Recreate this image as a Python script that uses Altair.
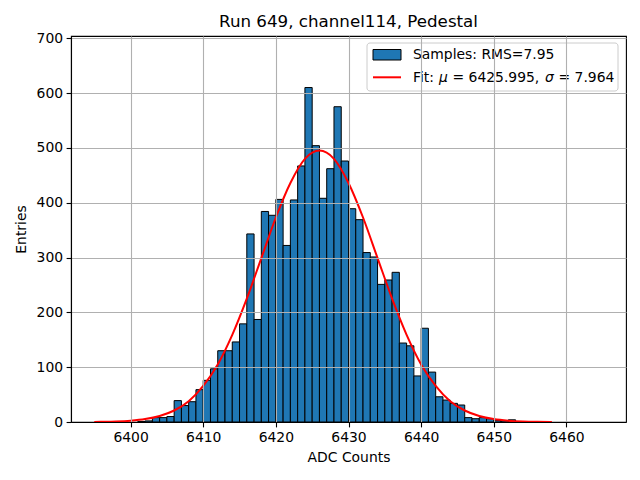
import altair as alt
import pandas as pd

# Histogram bins (left edges, width 1) and counts
bin_left = list(range(6401, 6453))
counts = [1, 2, 8, 8, 10, 39, 30, 37, 59, 76, 97, 130, 130, 146, 179,
          343, 187, 384, 377, 406, 322, 405, 467, 610, 504, 408, 462, 575,
          476, 389, 369, 309, 301, 251, 259, 273, 144, 139, 84, 171, 91,
          46, 40, 34, 31, 8, 6, 8, 6, 3, 2, 4]

# Fit curve points
fit_x = [6395, 6396, 6398, 6400, 6402, 6404, 6406, 6408, 6410, 6412, 6414,
         6416, 6418, 6420, 6422, 6424, 6426, 6428, 6430, 6432, 6434, 6436,
         6438, 6440, 6442, 6444, 6446, 6448, 6450, 6452, 6454, 6456, 6458]
fit_y = [0.2, 0.4, 1.0, 2.4, 5.3, 11, 21, 38, 66, 105, 159, 225, 299, 373,
         436, 480, 495, 480, 436, 373, 299, 225, 159, 105, 66, 38, 21, 11,
         5.3, 2.4, 1.0, 0.4, 0.2]

x_ticks = [6400, 6410, 6420, 6430, 6440, 6450, 6460]
y_ticks = [0, 100, 200, 300, 400, 500, 600, 700]

title_text = "Run 649, channel114, Pedestal"
legend_samples = "Samples: RMS=7.95"

FONT = "DejaVu Sans"
FS = 13.9
W, H = 555, 386

hist_df = pd.DataFrame({"left": bin_left, "count": counts})
fit_df = pd.DataFrame({"x": fit_x, "y": fit_y})
one = pd.DataFrame({"a": [0]})

xscale = alt.Scale(domain=[6391.8, 6468.2], nice=False, zero=False)
yscale = alt.Scale(domain=[0, 704], nice=False)

bars = alt.Chart(hist_df).transform_calculate(
    right="datum.left + 1"
).mark_bar(fill="#1f77b4", stroke="black", strokeWidth=1, opacity=1).encode(
    x=alt.X("left:Q", scale=xscale,
            axis=alt.Axis(values=x_ticks, format="d", title="ADC Counts",
                          grid=True, zindex=1)),
    x2="right:Q",
    y=alt.Y("count:Q", scale=yscale,
            axis=alt.Axis(values=y_ticks, format="d", title="Entries",
                          grid=True, zindex=1)),
    y2=alt.datum(0),
)

fit = alt.Chart(fit_df).mark_line(color="red", strokeWidth=2, interpolate="monotone").encode(
    x=alt.X("x:Q", scale=xscale),
    y=alt.Y("y:Q", scale=yscale),
)

# Legend (drawn manually)
box = alt.Chart(one).mark_rect(fill="white", fillOpacity=0.85, stroke="#cccccc",
                               strokeWidth=1, cornerRadius=3).encode(
    x=alt.value(296), x2=alt.value(547), y=alt.value(7), y2=alt.value(55))
patch = alt.Chart(one).mark_rect(fill="#1f77b4", stroke="black", strokeWidth=1).encode(
    x=alt.value(302), x2=alt.value(330), y=alt.value(13.5), y2=alt.value(24))
lline = alt.Chart(one).mark_rule(color="red", strokeWidth=2).encode(
    x=alt.value(302), x2=alt.value(330), y=alt.value(41.3))

def txt(s, x, y, italic=False, size=FS, align="left"):
    return alt.Chart(one).mark_text(
        text=s, align=align, baseline="alphabetic", font=FONT, fontSize=size,
        fontStyle="italic" if italic else "normal", color="black", clip=False
    ).encode(x=alt.value(x), y=alt.value(y))

t1 = txt(legend_samples, 342, 23)
t2 = txt("Fit:", 342, 46)
t3 = txt("\u03bc", 368, 46, italic=True)
t4 = txt("= 6425.995,", 381.5, 46)
t5 = txt("\u03c3", 474, 46, italic=True)
t6 = txt("= 7.964", 487.5, 46)

title = txt(title_text, W / 2, -9, size=16.7, align="center")

chart = alt.layer(bars, fit, box, patch, lline, t1, t2, t3, t4, t5, t6, title).properties(
    width=W, height=H,
    padding={"left": 63, "top": 28, "right": 6, "bottom": 50},
    autosize=alt.AutoSizeParams(type="none"),
).configure_axis(
    labelFont=FONT, labelFontSize=FS, labelColor="black",
    titleFont=FONT, titleFontSize=FS, titleFontWeight="normal", titleColor="black",
    domainColor="black", domainWidth=1.1, tickColor="black", tickWidth=1.1,
    tickSize=4.9, labelPadding=3.5, gridColor="#b0b0b0", gridWidth=1.1,
).configure_axisX(titlePadding=6.5).configure_axisY(titlePadding=8).configure_view(
    stroke="black", strokeWidth=1.1
)

chart.save("out.html", embed_options={"renderer": "svg", "actions": False})
